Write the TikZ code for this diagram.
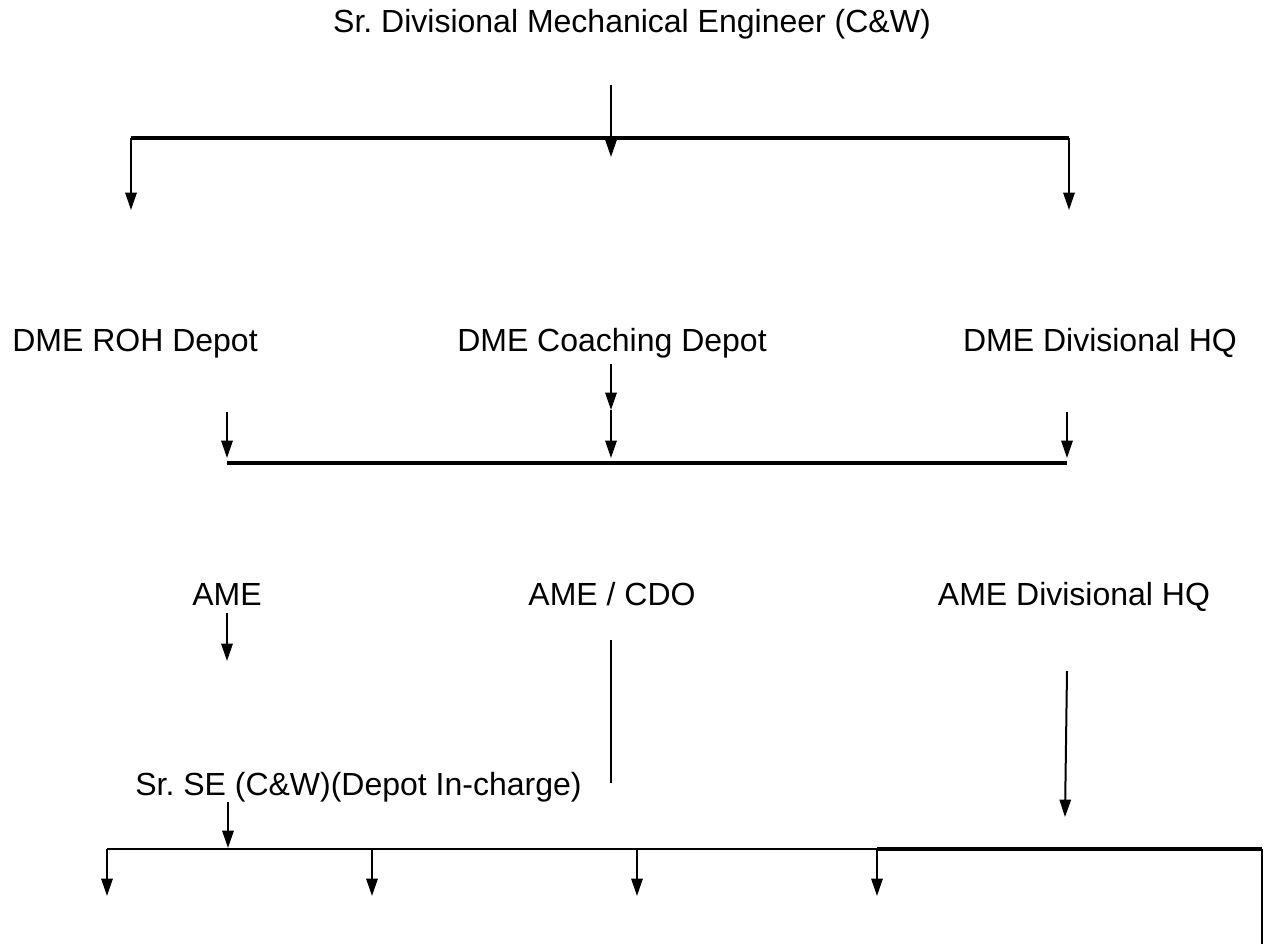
\documentclass[tikz,border=0pt]{standalone}
\usepackage{fontspec}
\setmainfont{Liberation Sans}
\usetikzlibrary{arrows.meta,positioning,calc}
\frenchspacing

\begin{document}
\begin{tikzpicture}[x=0.75pt,y=-0.75pt,
	post/.style={anchor=base,inner sep=0pt,font=\fontsize{24}{28}\selectfont},
	down/.style={-{Triangle[width=8.5pt,length=13pt]},line width=1.5pt},
	bar/.style={line width=2.4pt}]
	\useasboundingbox (0,0) rectangle (1264,944);
	% posts
	\node[post] (sdme) at (632,33)  {Sr. Divisional Mechanical Engineer (C\&W)};
	\node[post] (d1)   at (135,352) {DME ROH Depot};
	\node[post] (d2)   at (612,352) {DME Coaching Depot};
	\node[post] (d3)   at (1100,352) {DME Divisional HQ};
	\node[post] (a1)   at (227,605) {AME};
	\node[post] (a2)   at (612,605) {AME / CDO};
	\node[post] (a3)   at (1074,605) {AME Divisional HQ};
	\node[post,anchor=base west] (se) at (135,795) {Sr. SE (C\&W)(Depot In-charge)};
	% line ends
	\coordinate (t0) at (611,85);   \coordinate (t1) at (611,157);
	\coordinate (h1) at (131,138);  \coordinate (h2) at (1069,138);
	\coordinate (l1) at (131,210);  \coordinate (r1) at (1069,210);
	\coordinate (c0) at (611,364);  \coordinate (c1) at (611,410);  \coordinate (c2) at (611,458);
	\coordinate (m1) at (227,412);  \coordinate (m2) at (227,458);
	\coordinate (n1) at (1067,412); \coordinate (n2) at (1067,458);
	\coordinate (k1) at (227,463);  \coordinate (k2) at (1067,463);
	\coordinate (e0) at (227,613);  \coordinate (e1) at (227,661);
	\coordinate (o0) at (611,640);  \coordinate (o1) at (611,783);
	\coordinate (q0) at (1067,671); \coordinate (q1) at (1065,817);
	\coordinate (s0) at (228,802);  \coordinate (s1) at (228,848);
	\coordinate (b0) at (107,849);  \coordinate (b1) at (372,849);
	\coordinate (b2) at (637,849);  \coordinate (b3) at (877,849);
	\coordinate (b4) at (1262,849); \coordinate (b5) at (1262,944);
	\coordinate (u0) at (107,896);  \coordinate (u1) at (372,896);
	\coordinate (u2) at (637,896);  \coordinate (u3) at (877,896);
	% bars
	\draw[bar] (h1) -- (h2);
	\draw[bar] (k1) -- (k2);
	\draw[bar,line width=2pt] (o0) -- (o1);
	\draw[line width=2pt] (b0) -- (b3);
	\draw[bar] (b3) -- (b4);
	\draw[line width=1.5pt] (b4) -- (b5);
	\path[down]
		(t0) edge (t1)
		(h1) edge (l1) (h2) edge (r1)
		(c0) edge (c1) (c1) edge (c2)
		(m1) edge (m2) (n1) edge (n2)
		(e0) edge (e1) (q0) edge (q1)
		(s0) edge (s1)
		(b0) edge (u0) (b1) edge (u1)
		(b2) edge (u2) (b3) edge (u3)
	; %-path-%
\end{tikzpicture}
\end{document}
